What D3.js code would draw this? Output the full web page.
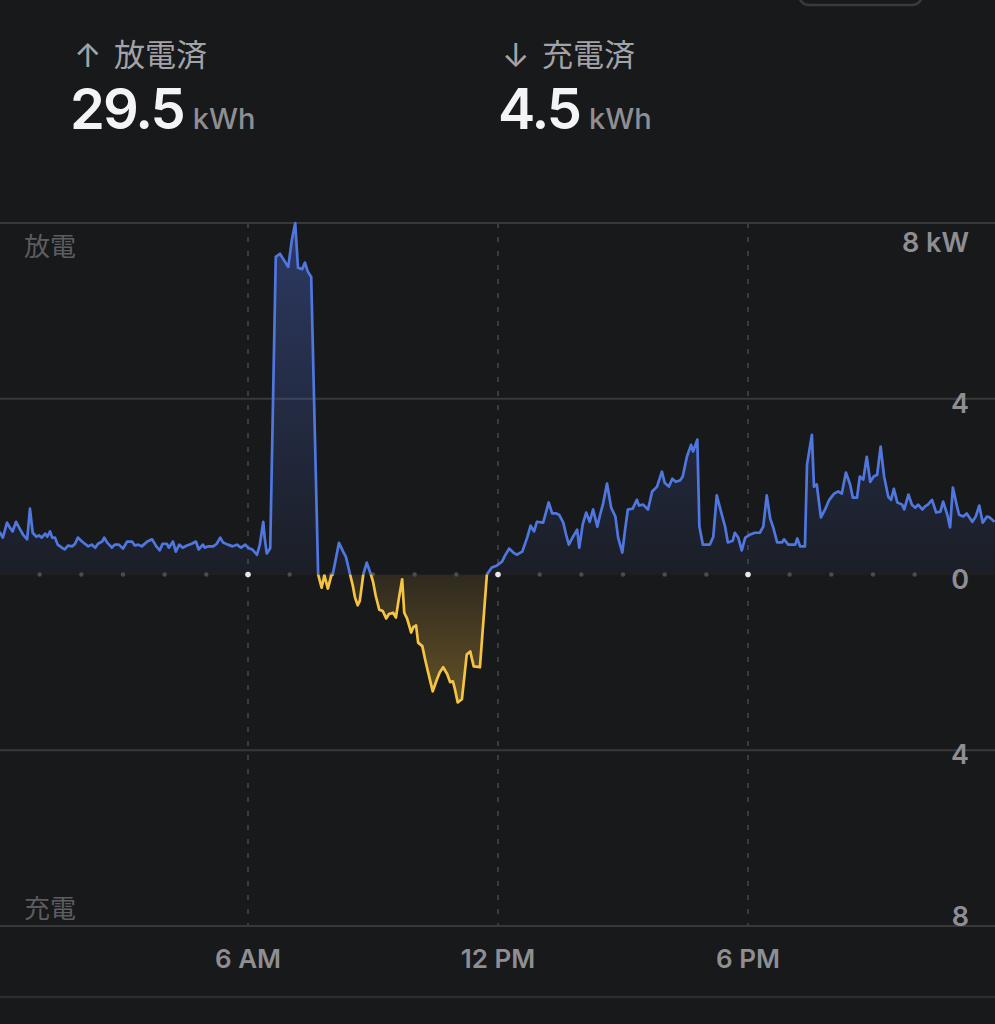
<!DOCTYPE html>
<html><head><meta charset="utf-8">
<script src="https://cdn.jsdelivr.net/npm/d3@7"></script>
<style>html,body{margin:0;padding:0;background:#18191b;overflow:hidden}svg{display:block}</style>
</head><body><svg id="c" width="995" height="1024"></svg>
<script>
// ---- data ----
const summaryLabels = ["放電済", "充電済"];
const summaryArrows = ["↑", "↓"];
const summaryValues = ["29.5", "4.5"];
const summaryUnit = "kWh";
const sideLabels = ["放電", "充電"];
const xTickHours = [6, 12, 18];
const xTickLabels = ["6 AM", "12 PM", "6 PM"];
const yTickValues = [8, 4, 0, -4, -8];
const yTickLabels = ["8 kW", "4", "0", "4", "8"];
// time of day in minutes, power in kW (positive = discharge, negative = charge)
const timeMin = [
  0,3,7,13,17,21,26,32,36,42,
  46,50,55,59,63,68,71,75,78,82,
  86,92,96,101,107,111,115,121,125,130,
  135,140,144,150,153,157,164,168,174,180,
  186,193,197,202,207,215,222,228,233,237,
  243,246,252,256,261,266,272,279,285,289,
  295,298,302,310,315,320,324,331,338,344,
  350,356,360,366,373,377,382,384,387,392,
  400,406,410,418,423,428,432,438,442,446,
  451,461,466,470,475,480,482,491,497,501,
  507,511,514,518,521,526,531,537,540,544,
  549,554,559,563,569,573,577,582,585,589,
  595,598,602,605,611,615,619,626,632,636,
  641,647,651,655,658,662,668,675,680,685,
  694,704,711,718,726,730,736,742,747,755,
  762,767,772,776,785,789,793,798,804,808,
  814,818,822,828,834,837,842,847,852,857,
  863,867,871,877,883,889,893,899,903,907,
  914,920,923,929,936,942,949,956,960,966,
  971,976,982,986,992,998,1001,1007,1010,1015,
  1025,1030,1035,1043,1047,1051,1058,1061,1066,1071,
  1076,1083,1090,1097,1102,1107,1112,1116,1122,1129,
  1132,1138,1148,1151,1155,1162,1165,1172,1175,1179,
  1185,1191,1197,1204,1210,1215,1221,1227,1231,1237,
  1241,1246,1251,1256,1261,1266,1271,1276,1282,1286,
  1290,1295,1302,1305,1311,1316,1321,1325,1331,1335,
  1339,1345,1351,1357,1361,1367,1371,1375,1381,1384,
  1390,1395,1403,1408,1413,1418,1424,1428,1435
];
const powerKW = [
  0.9,0.95,0.84,1.18,1.07,0.98,1.2,1.02,0.91,0.8,
  1.5,0.95,0.86,0.89,0.84,0.93,0.86,0.98,0.84,0.84,
  0.68,0.61,0.57,0.66,0.64,0.7,0.84,0.75,0.7,0.64,
  0.68,0.61,0.7,0.75,0.84,0.73,0.61,0.68,0.68,0.59,
  0.75,0.75,0.66,0.68,0.64,0.75,0.8,0.64,0.55,0.7,
  0.7,0.61,0.75,0.52,0.68,0.61,0.66,0.7,0.75,0.57,
  0.68,0.61,0.64,0.64,0.7,0.84,0.73,0.68,0.64,0.68,
  0.61,0.68,0.61,0.57,0.45,0.68,1.2,0.84,0.48,0.6,
  7.23,7.3,7.2,7.0,7.6,8.0,6.98,6.95,7.1,6.9,
  6.77,0,-0.3,-0.02,-0.32,-0.02,0,0.72,0.52,0.4,
  0,-0.26,-0.52,-0.7,-0.6,0,0.27,0,-0.16,-0.49,
  -0.8,-0.83,-1.0,-0.9,-0.87,-0.98,-0.57,-0.11,-0.87,-1.0,
  -1.32,-1.2,-1.16,-1.55,-1.63,-1.93,-2.2,-2.66,-2.39,-2.23,
  -2.11,-2.27,-2.45,-2.43,-2.61,-2.91,-2.84,-1.82,-1.75,-2.09,
  -2.11,0,0.16,0.2,0.3,0.43,0.59,0.5,0.45,0.52,
  0.84,1.11,0.98,1.2,1.18,1.41,1.64,1.39,1.39,1.36,
  1.18,0.91,0.68,0.86,1.02,0.61,1.14,1.41,1.2,1.48,
  1.09,1.36,1.59,2.07,1.52,1.32,0.84,0.5,1.02,1.48,
  1.5,1.7,1.57,1.59,1.48,1.89,2.0,2.34,2.09,2.0,
  2.18,2.11,2.14,2.23,2.68,2.95,2.8,3.07,1.09,0.68,
  0.68,0.86,1.8,1.32,1.09,0.73,0.77,0.95,0.84,0.55,
  0.84,0.91,0.95,0.95,1.09,1.8,1.27,1.09,0.73,0.73,
  0.8,0.68,0.68,0.82,0.64,0.64,2.5,3.18,2.0,2.05,
  1.3,1.48,1.7,1.84,1.89,1.84,2.32,2.05,1.75,1.75,
  2.23,2.16,2.68,2.11,2.23,2.27,2.91,2.23,1.77,1.7,
  1.95,1.64,1.59,1.48,1.82,1.59,1.52,1.59,1.48,1.55,
  1.59,1.7,1.41,1.43,1.66,1.36,1.07,1.98,1.55,1.36,
  1.32,1.39,1.2,1.32,1.57,1.18,1.32,1.3,1.2
];

// ---- drawing ----
const W = 995, H = 1024;
const BG = "#18191b";
const LATIN = "Inter, 'Noto Sans', sans-serif";
const CJK = "'Noto Sans CJK JP', 'Noto Sans CJK SC', sans-serif";
const svg = d3.select("#c");
svg.append("rect").attr("width", W).attr("height", H).attr("fill", BG);

const data = timeMin.map((t, i) => ({ t, v: powerKW[i] }));
const x = d3.scaleLinear().domain([0, 1440]).range([-2, 998]);
const y = d3.scaleLinear().domain([-8, 8]).range([926, 223]);
const y0 = y(0);

const defs = svg.append("defs");
const gBlue = defs.append("linearGradient").attr("id", "gBlue")
  .attr("gradientUnits", "userSpaceOnUse").attr("x1", 0).attr("x2", 0)
  .attr("y1", y(8)).attr("y2", y0);
gBlue.append("stop").attr("offset", 0).attr("stop-color", "#4d6fd8").attr("stop-opacity", 0.38);
gBlue.append("stop").attr("offset", 1).attr("stop-color", "#4d6fd8").attr("stop-opacity", 0.06);
const gYel = defs.append("linearGradient").attr("id", "gYel")
  .attr("gradientUnits", "userSpaceOnUse").attr("x1", 0).attr("x2", 0)
  .attr("y1", y0).attr("y2", y(-3));
gYel.append("stop").attr("offset", 0).attr("stop-color", "#d8a83a").attr("stop-opacity", 0.12);
gYel.append("stop").attr("offset", 1).attr("stop-color", "#d8a83a").attr("stop-opacity", 0.4);
defs.append("clipPath").attr("id", "clipTop").append("rect")
  .attr("x", 0).attr("y", 0).attr("width", W).attr("height", y0);
defs.append("clipPath").attr("id", "clipBot").append("rect")
  .attr("x", 0).attr("y", y0).attr("width", W).attr("height", H - y0);

// top-right button outline (partially visible)
svg.append("rect").attr("x", 799).attr("y", -40).attr("width", 123).attr("height", 45)
  .attr("rx", 10).attr("fill", "none").attr("stroke", "#3a3a3d").attr("stroke-width", 2.5);

// summary header
const colX = [74, 502];
summaryLabels.forEach((lab, i) => {
  const cx = colX[i];
  svg.append("text").attr("x", cx).attr("y", 67).text(summaryArrows[i])
    .attr("font-family", LATIN).attr("font-weight", 400).attr("font-size", 33)
    .attr("fill", "#a3a3a8");
  svg.append("text").attr("x", cx + 40).attr("y", 66).text(lab)
    .attr("font-family", CJK).attr("font-size", 31).attr("fill", "#a3a3a8");
  const vt = svg.append("text").attr("x", cx - 4).attr("y", 129)
    .attr("font-family", LATIN);
  vt.append("tspan").text(summaryValues[i]).attr("font-size", 56).attr("font-weight", 600)
    .attr("fill", "#f4f4f6").attr("letter-spacing", -2);
  vt.append("tspan").text(summaryUnit).attr("dx", 9).attr("font-size", 29).attr("font-weight", 500)
    .attr("fill", "#8e8e93");
});

// horizontal gridlines
yTickValues.filter(v => v !== 0).forEach(v => {
  svg.append("line").attr("x1", 0).attr("x2", W).attr("y1", y(v)).attr("y2", y(v))
    .attr("stroke", "#38383b").attr("stroke-width", 2);
});
// bottom separator
svg.append("line").attr("x1", 0).attr("x2", W).attr("y1", 997).attr("y2", 997)
  .attr("stroke", "#2e2e31").attr("stroke-width", 2.5);

// vertical dashed lines
xTickHours.forEach(h => {
  svg.append("line").attr("x1", x(h * 60)).attr("x2", x(h * 60))
    .attr("y1", y(8)).attr("y2", y(-8))
    .attr("stroke", "#3b3b3e").attr("stroke-width", 2).attr("stroke-dasharray", "5 9");
});

// areas
const area = d3.area().x(d => x(d.t)).y0(y0).y1(d => y(d.v)).curve(d3.curveLinear);
const line = d3.line().x(d => x(d.t)).y(d => y(d.v)).curve(d3.curveLinear);
svg.append("path").datum(data).attr("d", area).attr("fill", "url(#gBlue)").attr("clip-path", "url(#clipTop)");
svg.append("path").datum(data).attr("d", area).attr("fill", "url(#gYel)").attr("clip-path", "url(#clipBot)");

// baseline hour dots
d3.range(0, 25).forEach(h => {
  const major = xTickHours.includes(h);
  svg.append("circle").attr("cx", x(h * 60)).attr("cy", y0).attr("r", major ? 2.8 : 2.2)
    .attr("fill", major ? "#e8e8ea" : "#4c4c50");
});

// lines
svg.append("path").datum(data).attr("d", line).attr("fill", "none")
  .attr("stroke", "#5077e0").attr("stroke-width", 2.7).attr("stroke-linejoin", "round")
  .attr("clip-path", "url(#clipTop)");
svg.append("path").datum(data).attr("d", line).attr("fill", "none")
  .attr("stroke", "#f5c443").attr("stroke-width", 2.7).attr("stroke-linejoin", "round")
  .attr("clip-path", "url(#clipBot)");

// side labels
svg.append("text").attr("x", 24).attr("y", 256).text(sideLabels[0])
  .attr("font-family", CJK).attr("font-size", 26).attr("fill", "#5d5d61");
svg.append("text").attr("x", 24).attr("y", 918).text(sideLabels[1])
  .attr("font-family", CJK).attr("font-size", 26).attr("fill", "#5d5d61");

// right y labels
yTickValues.forEach((v, i) => {
  let by = y(v) + 14;
  if (i === 0) by = y(v) + 29;
  if (i === yTickValues.length - 1) by = y(v);
  svg.append("text").attr("x", 969).attr("y", by).attr("text-anchor", "end")
    .text(yTickLabels[i]).attr("font-family", LATIN).attr("font-size", 27)
    .attr("font-weight", 600).attr("fill", "#8e8e93");
});

// x labels
xTickHours.forEach((h, i) => {
  svg.append("text").attr("x", x(h * 60)).attr("y", 968).attr("text-anchor", "middle")
    .text(xTickLabels[i]).attr("font-family", LATIN).attr("font-size", 26)
    .attr("font-weight", 600).attr("fill", "#8e8e93");
});
</script>
</body></html>
